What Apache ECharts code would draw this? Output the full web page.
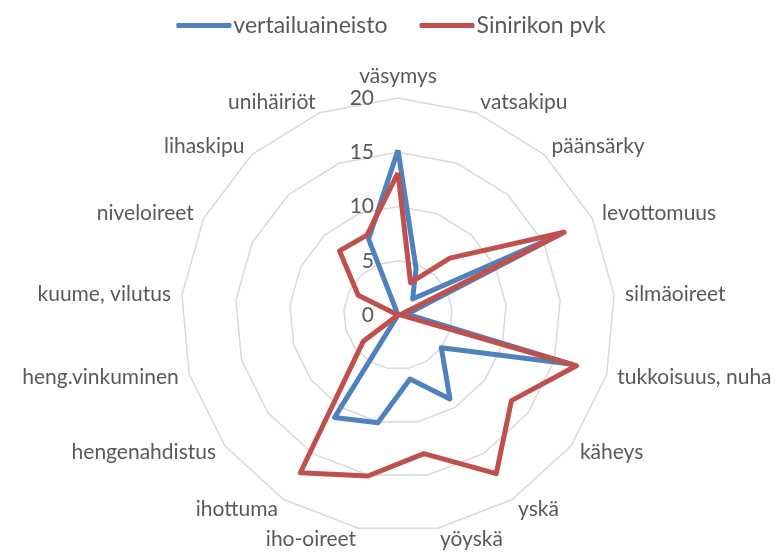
<!DOCTYPE html>
<html>
<head>
<meta charset="utf-8">
<script src="https://cdn.jsdelivr.net/npm/echarts@6/dist/echarts.min.js"></script>
<style>
  html, body { margin: 0; padding: 0; background: #fff; }
  #chart { width: 782px; height: 555px; }
</style>
</head>
<body>
<div id="chart"></div>
<script>
// oireet, myötäpäivään ylhäältä
const oireet = ['väsymys', 'vatsakipu', 'päänsärky', 'levottomuus', 'silmäoireet',
  'tukkoisuus, nuha', 'käheys', 'yskä', 'yöyskä', 'iho-oireet', 'ihottuma',
  'hengenahdistus', 'heng.vinkuminen', 'kuume, vilutus', 'niveloireet', 'lihaskipu', 'unihäiriöt']
const vertailu = [15.2, 4.6, 2.0, 16.8, 0.8, 16.5, 5.0, 9.1, 6.0, 10.1, 11.1, 0, 0, 0, 0, 0, 7.5]
const sinirikko = [13.1, 3.2, 7.1, 17.1, 0.2, 17.1, 13.1, 17.2, 13.0, 15.1, 17.1, 4.0, 0, 0, 4.1, 8.0, 7.9]
const asteikkoMax = 20
const asteikkoVali = 5

// echarts piirtää vastapäivään, joten järjestys käännetään (ensimmäinen pysyy ylhäällä)
const myotapaivaan = arr => [arr[0]].concat(arr.slice(1).reverse())

const fontti = 'Lato, "Open Sans", sans-serif'
const chart = echarts.init(document.getElementById('chart'))

chart.setOption({
  animation: false,
  legend: {
    top: 9,
    left: 'center',
    itemWidth: 55,
    itemHeight: 5,
    itemGap: 32,
    icon: 'roundRect',
    textStyle: { fontFamily: fontti, fontSize: 23, color: '#595959', padding: [0, 0, 0, -3] },
    data: ['vertailuaineisto', 'Sinirikon pvk']
  },
  radar: {
    center: [398, 315],
    radius: 217,
    shape: 'polygon',
    splitNumber: asteikkoMax / asteikkoVali,
    nameGap: 11,
    axisName: { color: '#595959', fontFamily: fontti, fontSize: 21 },
    axisLine: { show: false },
    axisTick: { show: false },
    axisLabel: { show: false },
    splitArea: { show: false },
    splitLine: { lineStyle: { color: '#d9d9d9', width: 1.5 } },
    indicator: myotapaivaan(oireet).map((o, i) => {
      const ind = { name: o, min: 0, max: asteikkoMax }
      if (i === 0) {
        ind.axisLabel = {
          show: true, color: '#595959', fontFamily: fontti, fontSize: 21,
          margin: 24, showMinLabel: true, showMaxLabel: true, hideOverlap: false
        }
      }
      return ind
    })
  },
  series: [{
    type: 'radar',
    symbol: 'none',
    data: [
      {
        name: 'vertailuaineisto',
        value: myotapaivaan(vertailu),
        itemStyle: { color: '#4f81bd' },
        lineStyle: { color: '#4f81bd', width: 5 }
      },
      {
        name: 'Sinirikon pvk',
        value: myotapaivaan(sinirikko),
        itemStyle: { color: '#c0504d' },
        lineStyle: { color: '#c0504d', width: 5 }
      }
    ]
  }]
})
</script>
</body>
</html>
